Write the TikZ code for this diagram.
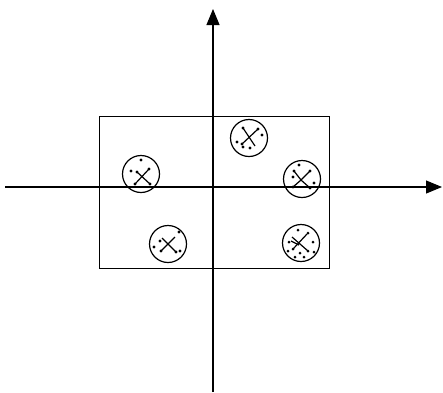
\documentclass[tikz,border=0pt]{standalone}
\usetikzlibrary{arrows.meta}
\begin{document}
\begin{tikzpicture}[x=1pt,y=-1pt,
  axis/.style={line width=1.1pt,-{Triangle[length=16pt,width=13pt]}},
  frame/.style={line width=1pt},
  cluster/.style={circle,draw,line width=1.2pt,minimum size=37pt,inner sep=0pt},
  xl/.style={line width=1.2pt},
  pt/.style={fill=black}]
\useasboundingbox (0,0) rectangle (443,392);
\coordinate (hl) at (5,187);
\coordinate (hr) at (442,187);
\coordinate (vb) at (213,392);
\coordinate (vt) at (213,9);
\draw[axis] (hl) -- (hr);
\draw[axis] (vb) -- (vt);
\coordinate (r1) at (99,116);
\coordinate (r2) at (329,268);
\draw[frame] (r1) rectangle (r2);
% clusters
\node[cluster] (c1) at (141,174) {};
\node[cluster] (c2) at (249,138) {};
\node[cluster] (c3) at (302,179) {};
\node[cluster] (c4) at (168,244) {};
\node[cluster] (c5) at (301,243) {};
% cluster 1
\begin{scope}[shift={(c1)}]
  \draw[xl] (-4,-2) -- (9,10);
  \draw[xl] (8,-5) -- (-6,10);
  \foreach \p in {(0,-14),(-10,-3),(-6,10),(8,-5),(-4,-2),(9,10)} \fill[pt] \p circle (1.6);
\end{scope}
% cluster 2
\begin{scope}[shift={(c2)}]
  \draw[xl] (-6,-10) -- (6,8);
  \draw[xl] (9,-9) -- (-7,6);
  \foreach \p in {(-12,4),(-7,6),(-6,9),(1,10),(13,-3),(9,-9),(-6,-10)} \fill[pt] \p circle (1.6);
\end{scope}
% cluster 3
\begin{scope}[shift={(c3)}]
  \draw[xl] (-8,-8) -- (-1,1) -- (8,9);
  \draw[xl] (8,-8) -- (-1,1) -- (-9,8);
  \foreach \p in {(-3,-14),(8,-8),(-8,-8),(-9,-2),(-9,8),(12,4),(8,9)} \fill[pt] \p circle (1.6);
\end{scope}
% cluster 4
\begin{scope}[shift={(c4)}]
  \draw[xl] (-6,-6) -- (8,8);
  \draw[xl] (7,-7) -- (-7,7);
  \foreach \p in {(11,-12),(-14,3),(-8,-3),(-7,7),(8,8),(12,7)} \fill[pt] \p circle (1.6);
\end{scope}
% cluster 5
\begin{scope}[shift={(c5)}]
  \draw[xl] (-9,-6) -- (7,8);
  \draw[xl] (6,-9) -- (-8,6);
  \draw[xl] (-2,2) -- (-10,-2);
  \foreach \p in {(-3,-13),(7,-10),(-12,-1),(-8,6),(12,-1),(-13,8),(-1,10),(7,8),(13,9),(-6,14),(3,14)} \fill[pt] \p circle (1.5);
\end{scope}
\end{tikzpicture}
\end{document}
